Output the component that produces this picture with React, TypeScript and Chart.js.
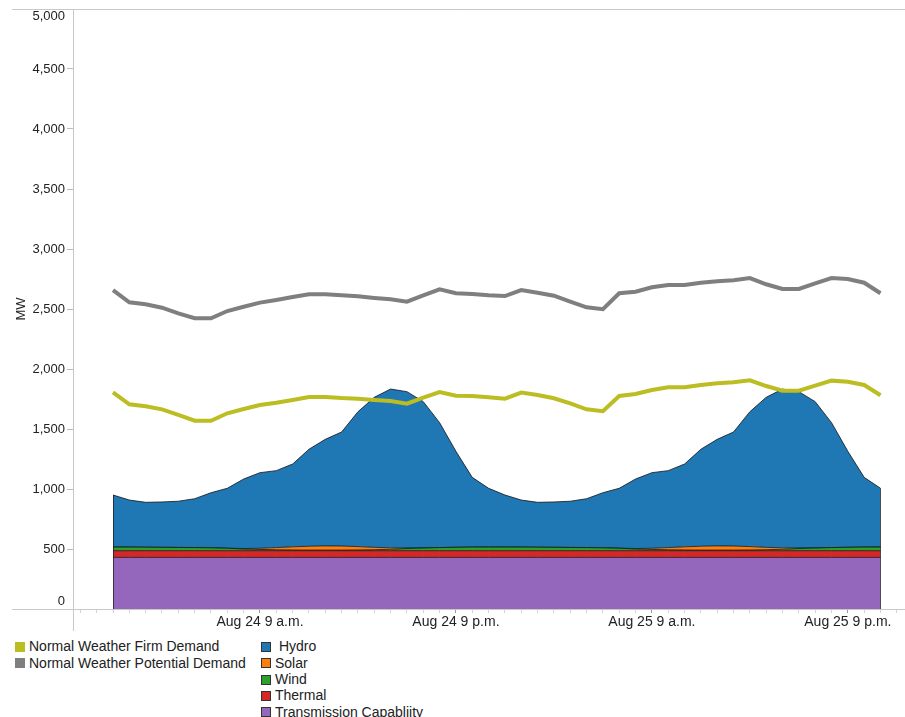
import React, { useEffect, useRef } from "react";
import { Chart, registerables } from "chart.js";

Chart.register(...registerables);

// ---- data (hour offsets from Aug 24 12 a.m.) ----
const HOURS = [
  0, 1, 2, 3, 4, 5, 6, 7, 8, 9, 10, 11, 12, 13, 14, 15, 16, 17, 18, 19, 20, 21, 22, 23,
  24, 25, 26, 27, 28, 29, 30, 31, 32, 33, 34, 35, 36, 37, 38, 39, 40, 41, 42, 43, 44, 45, 46, 47,
];

const TRANSMISSION = [
  430, 430, 430, 430, 430, 430, 430, 430, 430, 430, 430, 430, 430, 430, 430, 430, 430, 430, 430, 430, 430, 430, 430, 430,
  430, 430, 430, 430, 430, 430, 430, 430, 430, 430, 430, 430, 430, 430, 430, 430, 430, 430, 430, 430, 430, 430, 430, 430,
];

const THERMAL = [
  56, 56, 56, 56, 56, 56, 56, 56, 56, 56, 56, 56, 56, 56, 56, 56, 56, 56, 56, 56, 56, 56, 56, 56,
  56, 56, 56, 56, 56, 56, 56, 56, 56, 56, 56, 56, 56, 56, 56, 56, 56, 56, 56, 56, 56, 56, 56, 56,
];

const WIND = [
  30, 30, 29, 28, 27, 26, 24, 20, 14, 10, 8, 6, 5, 5, 5, 6, 8, 12, 18, 22, 26, 28, 30, 30,
  30, 30, 29, 28, 27, 26, 24, 20, 14, 10, 8, 6, 5, 5, 5, 6, 8, 12, 18, 22, 26, 28, 30, 30,
];

const SOLAR = [
  0, 0, 0, 0, 0, 0, 0, 1, 4, 10, 18, 26, 32, 35, 34, 28, 20, 12, 5, 1, 0, 0, 0, 0,
  0, 0, 0, 0, 0, 0, 0, 1, 4, 10, 18, 26, 32, 35, 34, 28, 20, 12, 5, 1, 0, 0, 0, 0,
];

const HYDRO = [
  434, 392, 374, 378, 385, 407, 459, 499, 579, 630, 641, 690, 808, 888, 950, 1124, 1250, 1323, 1302, 1219, 1041, 800, 581, 490,
  434, 392, 374, 378, 385, 407, 459, 499, 579, 630, 641, 690, 808, 888, 950, 1124, 1250, 1323, 1302, 1219, 1041, 800, 581, 490,
];

const FIRM_DEMAND = [
  1806, 1706, 1689, 1664, 1618, 1569, 1569, 1631, 1667, 1700, 1719, 1742, 1767, 1767, 1758, 1753, 1742, 1733, 1711, 1761, 1808, 1778, 1775, 1764,
  1753, 1803, 1783, 1756, 1714, 1664, 1648, 1775, 1792, 1825, 1848, 1848, 1867, 1881, 1889, 1906, 1858, 1819, 1819, 1861, 1903, 1894, 1867, 1781,
];

const POTENTIAL_DEMAND = [
  2658, 2556, 2539, 2511, 2464, 2423, 2423, 2483, 2519, 2553, 2575, 2600, 2623, 2623, 2614, 2606, 2592, 2581, 2561, 2614, 2664, 2631, 2625, 2614,
  2608, 2658, 2636, 2611, 2561, 2514, 2498, 2631, 2644, 2681, 2700, 2700, 2719, 2731, 2739, 2758, 2706, 2667, 2667, 2714, 2758, 2750, 2719, 2631,
];

const TICK_HOURS = [9, 21, 33, 45];
const TICK_LABELS = ["Aug 24 9 a.m.", "Aug 24 9 p.m.", "Aug 25 9 a.m.", "Aug 25 9 p.m."];
const X_MIN = -2.45;
const X_MAX = 48.5;
const Y_MIN = 0;
const Y_MAX = 5000;
const Y_STEP = 500;

const COLORS = {
  firm: "#bcbd22",
  potential: "#7f7f7f",
  hydro: "#1f77b4",
  solar: "#ff7f0e",
  wind: "#2ca02c",
  thermal: "#d62728",
  transmission: "#9467bd",
};

const FONT = "'Liberation Sans', Arial, sans-serif";
const AXIS_COLOR = "#c8c8c8";
const TEXT_COLOR = "#222";

const LEGEND_LEFT = [
  { label: "Normal Weather Firm Demand", color: COLORS.firm },
  { label: "Normal Weather Potential Demand", color: COLORS.potential },
];
const LEGEND_RIGHT = [
  { label: "\u00a0Hydro", color: COLORS.hydro },
  { label: "Solar", color: COLORS.solar },
  { label: "Wind", color: COLORS.wind },
  { label: "Thermal", color: COLORS.thermal },
  { label: "Transmission Capabliity", color: COLORS.transmission },
];

const pts = (arr: number[]) => HOURS.map((h, i) => ({ x: h, y: arr[i] }));

const framePlugin = {
  id: "frame",
  afterDatasetsDraw(chart: any) {
    const { ctx, chartArea } = chart;
    const ys = chart.scales.y;
    ctx.save();
    // edges of stacked area
    const hydroMeta = chart.getDatasetMeta(4);
    const first = hydroMeta.data[0];
    const last = hydroMeta.data[hydroMeta.data.length - 1];
    const y0 = ys.getPixelForValue(0);
    ctx.strokeStyle = "rgba(30,30,30,0.75)";
    ctx.lineWidth = 1;
    ctx.beginPath();
    ctx.moveTo(Math.round(first.x) + 0.5, y0);
    ctx.lineTo(Math.round(first.x) + 0.5, first.y);
    ctx.moveTo(Math.round(last.x) - 0.5, y0);
    ctx.lineTo(Math.round(last.x) - 0.5, last.y);
    ctx.stroke();
    ctx.restore();
  },
  afterDraw(chart: any) {
    const { ctx, chartArea, width } = chart;
    ctx.save();
    ctx.strokeStyle = AXIS_COLOR;
    ctx.lineWidth = 1;
    ctx.beginPath();
    const t = Math.round(chartArea.top) + 0.5;
    ctx.moveTo(12, t);
    ctx.lineTo(width, t);
    const b = Math.round(chartArea.bottom) + 0.5;
    ctx.moveTo(12, b);
    ctx.lineTo(chartArea.left, b);
    const l = Math.round(chartArea.left) + 0.5;
    ctx.moveTo(l, chartArea.top);
    ctx.lineTo(l, chartArea.bottom + 22);
    ctx.stroke();
    ctx.restore();
  },
};

export default function App() {
  const ref = useRef<HTMLCanvasElement | null>(null);

  useEffect(() => {
    if (!ref.current) return;
    const areaBorder = "rgba(20,20,20,0.8)";
    const area = (label: string, data: number[], color: string, fill: any) => ({
      label,
      data: pts(data),
      backgroundColor: color,
      borderColor: areaBorder,
      borderWidth: 1,
      pointRadius: 0,
      tension: 0,
      fill,
      stack: "supply",
    });
    const chart = new Chart(ref.current, {
      type: "line",
      data: {
        datasets: [
          area("Transmission Capabliity", TRANSMISSION, COLORS.transmission, "origin"),
          area("Thermal", THERMAL, COLORS.thermal, "-1"),
          area("Wind", WIND, COLORS.wind, "-1"),
          area("Solar", SOLAR, COLORS.solar, "-1"),
          area("Hydro", HYDRO, COLORS.hydro, "-1"),
          {
            label: "Normal Weather Firm Demand",
            data: pts(FIRM_DEMAND),
            borderColor: COLORS.firm,
            backgroundColor: COLORS.firm,
            borderWidth: 4,
            pointRadius: 0,
            tension: 0,
            fill: false,
            stack: "firm",
            order: -1,
          },
          {
            label: "Normal Weather Potential Demand",
            data: pts(POTENTIAL_DEMAND),
            borderColor: COLORS.potential,
            backgroundColor: COLORS.potential,
            borderWidth: 4,
            pointRadius: 0,
            tension: 0,
            fill: false,
            stack: "potential",
            order: -1,
          },
        ] as any,
      },
      options: {
        animation: false,
        responsive: false,
        maintainAspectRatio: false,
        layout: { padding: { top: 9, left: 0, right: 0, bottom: 0 } },
        plugins: {
          legend: { display: false },
          tooltip: { enabled: false },
        },
        scales: {
          x: {
            type: "linear",
            min: X_MIN,
            max: X_MAX,
            grid: {
              drawOnChartArea: false,
              drawTicks: true,
              tickLength: 4,
              tickColor: (c: any) =>
                c.tick && TICK_HOURS.indexOf(c.tick.value) >= 0 ? "#999" : "#d4d4d4",
            },
            border: { display: true, color: AXIS_COLOR },
            afterBuildTicks: (scale: any) => {
              const t = [];
              for (let h = Math.ceil(X_MIN); h <= Math.floor(X_MAX); h++) t.push({ value: h });
              scale.ticks = t;
            },
            afterFit: (scale: any) => {
              scale.height = 23;
            },
            ticks: {
              autoSkip: false,
              maxRotation: 0,
              minRotation: 0,
              padding: 1,
              color: TEXT_COLOR,
              font: { family: FONT, size: 14 },
              callback: (v: any) => {
                const k = TICK_HOURS.indexOf(Number(v));
                return k >= 0 ? TICK_LABELS[k] : "";
              },
            },
          },
          y: {
            type: "linear",
            stacked: true,
            min: Y_MIN,
            max: Y_MAX,
            grid: {
              drawOnChartArea: false,
              drawTicks: true,
              tickLength: 6,
              tickColor: (c: any) =>
                c.tick && (c.tick.value === Y_MIN || c.tick.value === Y_MAX) ? "rgba(0,0,0,0)" : "#bbb",
            },
            border: { display: true, color: AXIS_COLOR },
            title: {
              display: true,
              text: "MW",
              color: TEXT_COLOR,
              font: { family: FONT, size: 13 },
              padding: { top: 14, bottom: 0 },
            },
            afterFit: (scale: any) => {
              scale.width = 73;
              scale.paddingTop = 0;
              scale.paddingBottom = 0;
            },
            ticks: {
              stepSize: Y_STEP,
              padding: 2,
              color: TEXT_COLOR,
              font: { family: FONT, size: 13 },
              callback: (v: any) => {
                const s = Number(v).toLocaleString("en-US");
                if (Number(v) === Y_MIN) return [s, ""];
                if (Number(v) === Y_MAX) return ["", s];
                return s;
              },
            },
          },
        },
      } as any,
      plugins: [framePlugin],
    });
    return () => chart.destroy();
  }, []);

  const rowTop = (i: number) => 638.2 + i * 16.4;
  const textStyle: React.CSSProperties = {
    fontFamily: FONT,
    fontSize: 14,
    color: TEXT_COLOR,
    lineHeight: "17px",
    whiteSpace: "pre",
  };

  return (
    <div style={{ position: "absolute", left: 0, top: 0, width: 905, height: 717, background: "#fff", overflow: "hidden" }}>
      <canvas ref={ref} width={905} height={632} style={{ position: "absolute", left: 0, top: 0, width: 905, height: 632 }} />
      {LEGEND_LEFT.map((it, i) => (
        <div key={it.label} style={{ position: "absolute", left: 15, top: rowTop(i), height: 17, display: "flex", alignItems: "center" }}>
          <span style={{ display: "inline-block", width: 10, height: 10, background: it.color, marginRight: 4, boxSizing: "border-box" }} />
          <span style={textStyle}>{it.label}</span>
        </div>
      ))}
      {LEGEND_RIGHT.map((it, i) => (
        <div key={it.label} style={{ position: "absolute", left: 261, top: rowTop(i), height: 17, display: "flex", alignItems: "center" }}>
          <span style={{ display: "inline-block", width: 10, height: 10, background: it.color, border: "1px solid #333", marginRight: 4, boxSizing: "border-box" }} />
          <span style={textStyle}>{it.label}</span>
        </div>
      ))}
    </div>
  );
}
